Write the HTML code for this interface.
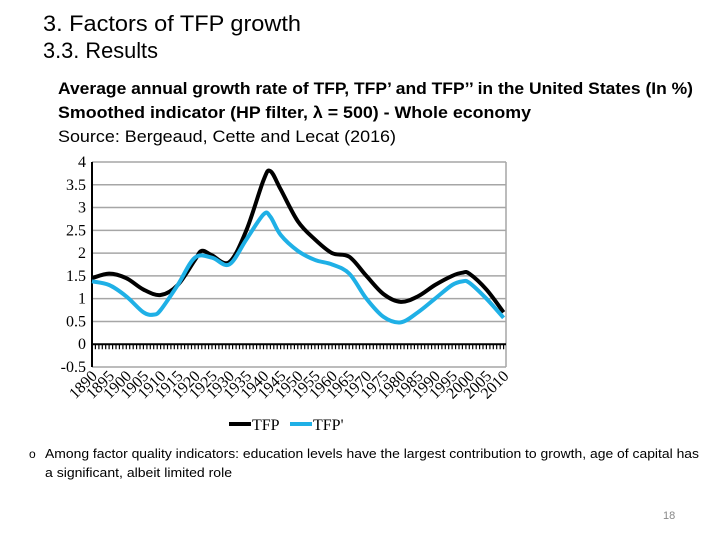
<!DOCTYPE html>
<html><head><meta charset="utf-8"><style>
html,body{margin:0;padding:0;background:#fff;}
svg{display:block;}
</style></head><body>
<svg id="s" width="720" height="540" viewBox="0 0 720 540" xmlns="http://www.w3.org/2000/svg">
<g font-family="Liberation Sans, sans-serif" fill="#000">
<text x="43" y="31" font-size="22" textLength="258" lengthAdjust="spacingAndGlyphs">3.   Factors of TFP growth</text>
<text x="43" y="58" font-size="22" textLength="115" lengthAdjust="spacingAndGlyphs">3.3. Results</text>
<text x="58" y="94" font-size="17" font-weight="bold" textLength="635" lengthAdjust="spacingAndGlyphs">Average annual growth rate of TFP, TFP’ and TFP’’ in the United States (In %)</text>
<text x="58" y="118" font-size="17" font-weight="bold" textLength="473" lengthAdjust="spacingAndGlyphs">Smoothed indicator (HP filter, λ = 500) -  Whole economy</text>
<text x="58" y="142" font-size="17" textLength="338" lengthAdjust="spacingAndGlyphs">Source: Bergeaud, Cette and Lecat (2016)</text>
<text x="29" y="458" font-size="12">o</text>
<text x="45" y="458" font-size="13" textLength="654" lengthAdjust="spacingAndGlyphs">Among factor quality indicators: education levels have the largest contribution to growth, age of capital has</text>
<text x="45" y="477" font-size="13" textLength="187" lengthAdjust="spacingAndGlyphs">a significant, albeit limited role</text>
<text x="663" y="519" font-size="11" fill="#888">18</text>
</g>
<g id="chart"></g>
</svg>
<script>
const years1 = [1890,1895,1900,1905,1910,1915,1920,1922,1925,1930,1935,1940,1942,1945,1950,1955,1960,1965,1970,1975,1980,1985,1990,1995,1998,2000,2005,2010];
const tfp = [1.45,1.55,1.45,1.2,1.08,1.3,1.85,2.05,1.95,1.8,2.5,3.6,3.8,3.4,2.7,2.3,2.0,1.92,1.5,1.1,0.93,1.05,1.3,1.5,1.57,1.55,1.2,0.7];
const years2 = [1890,1895,1900,1905,1908,1910,1915,1920,1925,1930,1935,1940,1942,1945,1950,1955,1960,1965,1970,1975,1980,1985,1990,1995,1998,2000,2005,2010];
const tfp2 = [1.38,1.3,1.05,0.7,0.65,0.75,1.3,1.9,1.9,1.75,2.3,2.85,2.8,2.4,2.05,1.85,1.75,1.55,1.0,0.6,0.48,0.7,1.0,1.3,1.38,1.35,1.0,0.58];
const yTicks = [4,3.5,3,2.5,2,1.5,1,0.5,0,-0.5];
const yTickLabels = ["4","3.5","3","2.5","2","1.5","1","0.5","0","-0.5"];
const xLabels = [1890,1895,1900,1905,1910,1915,1920,1925,1930,1935,1940,1945,1950,1955,1960,1965,1970,1975,1980,1985,1990,1995,2000,2005,2010];
const seriesNames = ["TFP","TFP'"];

const NS="http://www.w3.org/2000/svg";
const g=document.getElementById('chart');
const X0=92,X1=506,Y0=162,Y1=367;
const x=yr=>X0+(yr-1890)/(2010.7-1890)*(X1-X0);
const y=v=>Y1-(v+0.5)/4.5*(Y1-Y0);
function mk(t,a){const e=document.createElementNS(NS,t);for(const k in a)e.setAttribute(k,a[k]);g.appendChild(e);return e;}
yTicks.forEach((v,i)=>{
  if(v!==0){const l=mk('line',{x1:X0,x2:X1,y1:y(v),y2:y(v),stroke:'#a6a6a6','stroke-width':1.5});
  
  }
  const t=mk('text',{x:X0-6,y:y(v)+5,'text-anchor':'end','font-family':'Liberation Serif, serif','font-size':16});
  t.textContent=yTickLabels[i];
  
  
});
let r=mk('line',{x1:X1,x2:X1,y1:Y0,y2:Y1,stroke:'#a6a6a6','stroke-width':1.5});


let ya=mk('line',{x1:X0,x2:X0,y1:Y0,y2:Y1,stroke:'#000','stroke-width':2});


let xa=mk('line',{x1:X0,x2:X1,y1:y(0),y2:y(0),stroke:'#000','stroke-width':2});


let d='';
for(let yr=1890;yr<=2010;yr++){d+='M'+x(yr).toFixed(1)+' '+y(0)+'v5';}
let tk=mk('path',{d:d,stroke:'#000','stroke-width':1.2});


xLabels.forEach(yr=>{
  const px=x(yr)+6,py=377;
  const t=mk('text',{x:px,y:py,'text-anchor':'end','font-family':'Liberation Serif, serif','font-size':16,transform:`rotate(-45 ${px} ${py})`});
  t.textContent=yr;
  
  
});
function path(xs,vs){
  const p=xs.map((a,i)=>[x(a),y(vs[i])]);
  let s='M'+p[0][0]+' '+p[0][1];
  for(let i=0;i<p.length-1;i++){
    const a=p[i-1]||p[i],b=p[i],c=p[i+1],e=p[i+2]||c;
    s+=` C${b[0]+(c[0]-a[0])/6} ${b[1]+(c[1]-a[1])/6} ${c[0]-(e[0]-b[0])/6} ${c[1]-(e[1]-b[1])/6} ${c[0]} ${c[1]}`;
  }
  return s;
}
let s1=mk('path',{d:path(years1,tfp),fill:'none',stroke:'#000','stroke-width':4,'stroke-linejoin':'round'});


let s2=mk('path',{d:path(years2,tfp2),fill:'none',stroke:'#1fb0e6','stroke-width':4,'stroke-linejoin':'round'});


[[229,'#000'],[290,'#1fb0e6']].forEach((o,i)=>{
  const l=mk('line',{x1:o[0],x2:o[0]+22,y1:424,y2:424,stroke:o[1],'stroke-width':4});
  
  
  const t=mk('text',{x:o[0]+23,y:430,'font-family':'Liberation Serif, serif','font-size':16});
  t.textContent=seriesNames[i];
  
  
});
</script>
</body></html>
